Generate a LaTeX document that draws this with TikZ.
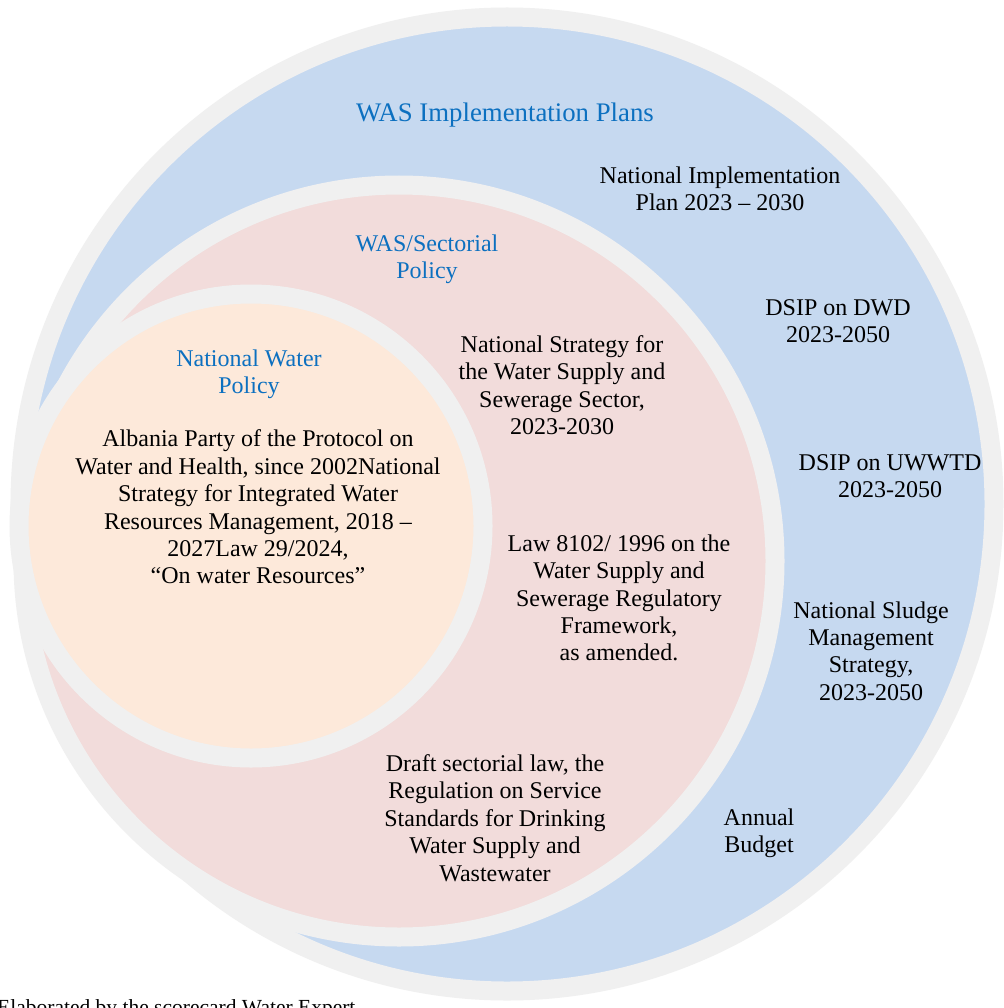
\documentclass[tikz,border=0pt]{standalone}
\usepackage{fontspec}
\setmainfont{Liberation Serif}
\definecolor{ringgrey}{HTML}{F0F0F0}
\definecolor{bluefill}{HTML}{C6D9F0}
\definecolor{pinkfill}{HTML}{F2DCDB}
\definecolor{orangefill}{HTML}{FDE9DA}
\definecolor{titleblue}{HTML}{0C70C0}
\begin{document}
\begin{tikzpicture}[x=1pt,y=-1pt,
  ring/.style={draw=ringgrey,line width=19pt},
  body/.style={align=center,font=\fontsize{24}{27.4}\selectfont,inner sep=0pt},
  title/.style={body,text=titleblue},
  bigtitle/.style={title,font=\fontsize{26.8}{30}\selectfont}]
\useasboundingbox (0,0) rectangle (1003,1008);
\fill[white] (0,0) rectangle (1003,1008);
% circles
\filldraw[ring,fill=bluefill] (507,504) circle (487);
\filldraw[ring,fill=pinkfill] (399,561) circle (376);
\filldraw[ring,fill=orangefill] (251,526) circle (232);
% texts
\node[bigtitle] (t1) at (505,115) {WAS Implementation Plans};
\node[title] (t2) at (427,259) {WAS/Sectorial\\Policy};
\node[title] (t3) at (249,374) {National Water\\Policy};
\node[body] (a) at (258,507) {Albania Party of the Protocol on\\Water and Health, since 2002National\\Strategy for Integrated Water\\Resources Management, 2018 --\\2027Law 29/2024,\\``On water Resources''};
\node[body] (nip) at (720,189) {National Implementation\\Plan 2023 -- 2030};
\node[body] (dwd) at (838,321) {DSIP on DWD\\2023-2050};
\node[body] (uw) at (890,476) {DSIP on UWWTD\\2023-2050};
\node[body] (sl) at (871,651) {National Sludge\\Management\\Strategy,\\2023-2050};
\node[body] (ab) at (759,833) {Annual\\Budget};
\node[body] (ns) at (562,385) {National Strategy for\\the Water Supply and\\Sewerage Sector,\\2023-2030};
\node[body] (law) at (619,598) {Law 8102/ 1996 on the\\Water Supply and\\Sewerage Regulatory\\Framework,\\as amended.};
\node[body] (dr) at (495,818) {Draft sectorial law, the\\Regulation on Service\\Standards for Drinking\\Water Supply and\\Wastewater};
\node[body,font=\fontsize{21.5}{24}\selectfont,anchor=base west] (foot) at (-3,1014) {Elaborated by the scorecard Water Expert};
\end{tikzpicture}
\end{document}
